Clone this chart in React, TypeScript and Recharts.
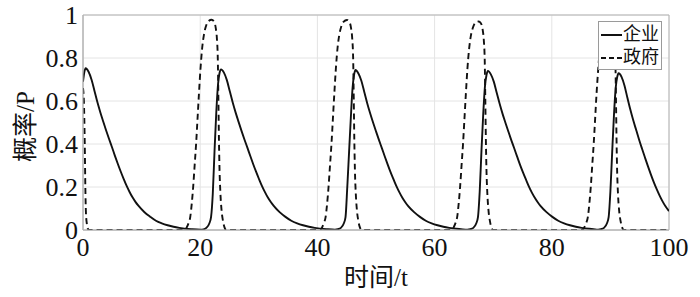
import { LineChart, Line, XAxis, YAxis, CartesianGrid, ReferenceArea } from 'recharts';

// tick values on both axes
const xTicks = [0, 20, 40, 60, 80, 100];
const yTicks = [0, 0.2, 0.4, 0.6, 0.8, 1];

const seriesNames = ['企业', '政府'];
const xTitle = '时间/t';
const yTitle = '概率/P';

// [t, P] – enterprise (solid)
const enterprise: [number, number][] = [
    [0, 0.69], [0.2, 0.73], [0.45, 0.752], [0.95, 0.736], [1.45, 0.7], [1.95, 0.648], [2.45, 0.595],
    [2.95, 0.548], [3.45, 0.505], [3.95, 0.463], [4.45, 0.423], [4.95, 0.385], [5.45, 0.345], [5.95, 0.307],
    [6.45, 0.271], [6.95, 0.237], [7.45, 0.205], [7.95, 0.177], [8.45, 0.152], [8.95, 0.131], [9.45, 0.113],
    [10.45, 0.084], [11.45, 0.062], [12.45, 0.043], [13.45, 0.031], [14.45, 0.022], [15.45, 0.015],
    [16.45, 0.01], [18.45, 0.004],
    [20.05, 0.0015], [20.55, 0.003], [21.05, 0.01], [21.55, 0.03], [21.85, 0.06], [22.15, 0.17], [22.45, 0.37],
    [22.75, 0.55], [23.05, 0.68], [23.3, 0.73], [23.55, 0.747], [24.05, 0.732], [24.55, 0.697], [25.05, 0.645],
    [25.55, 0.593], [26.05, 0.546], [26.55, 0.503], [27.05, 0.461], [27.55, 0.421], [28.05, 0.383],
    [28.55, 0.344], [29.05, 0.306], [29.55, 0.27], [30.05, 0.236], [30.55, 0.204], [31.05, 0.176],
    [31.55, 0.151], [32.05, 0.13], [32.55, 0.112], [33.55, 0.083], [34.55, 0.061], [35.55, 0.043],
    [36.55, 0.031], [37.55, 0.022], [38.55, 0.015], [39.55, 0.01], [41.55, 0.004],
    [43, 0.0015], [43.5, 0.004], [44, 0.01], [44.5, 0.03], [44.8, 0.06], [45.1, 0.2],
    [45.4, 0.36], [45.7, 0.52], [46, 0.66], [46.25, 0.72], [46.5, 0.744], [47, 0.728], [47.5, 0.694],
    [48, 0.642], [48.5, 0.59], [49, 0.543], [49.5, 0.5], [50, 0.459], [50.5, 0.419], [51, 0.381],
    [51.5, 0.342], [52, 0.304], [52.5, 0.268], [53, 0.235], [53.5, 0.203], [54, 0.175], [54.5, 0.15],
    [55, 0.129], [55.5, 0.111], [56.5, 0.083], [57.5, 0.061], [58.5, 0.043], [59.5, 0.031], [60.5, 0.022],
    [61.5, 0.015], [62.5, 0.01], [64.5, 0.004],
    [65.6, 0.0015], [66.1, 0.004], [66.6, 0.01], [67.1, 0.03], [67.4, 0.06],
    [67.7, 0.18], [68, 0.37], [68.3, 0.54], [68.6, 0.67], [68.85, 0.72], [69.1, 0.74], [69.6, 0.724],
    [70.1, 0.69], [70.6, 0.638], [71.1, 0.587], [71.6, 0.54], [72.1, 0.498], [72.6, 0.457], [73.1, 0.417],
    [73.6, 0.379], [74.1, 0.34], [74.6, 0.302], [75.1, 0.267], [75.6, 0.234], [76.1, 0.202], [76.6, 0.174],
    [77.1, 0.15], [77.6, 0.129], [78.1, 0.111], [79.1, 0.083], [80.1, 0.061], [81.1, 0.043], [82.1, 0.031],
    [83.1, 0.022], [84.1, 0.015], [85.1, 0.01], [87.1, 0.004],
    [87.9, 0.0015], [88.4, 0.004], [88.9, 0.01], [89.4, 0.03],
    [89.7, 0.06], [90, 0.18], [90.3, 0.36], [90.6, 0.53], [90.9, 0.66], [91.15, 0.71], [91.4, 0.729],
    [91.9, 0.712], [92.4, 0.672], [92.9, 0.615], [93.4, 0.56], [93.9, 0.51], [94.4, 0.465], [94.9, 0.42],
    [95.4, 0.378], [95.9, 0.337], [96.4, 0.297], [96.9, 0.259], [97.4, 0.223], [97.9, 0.19], [98.4, 0.16],
    [98.9, 0.133], [99.4, 0.11], [100, 0.088],
];

// [t, P] – government (dashed)
const government: [number, number][] = [
    [0, 0.66], [0.15, 0.6], [0.3, 0.4], [0.4, 0.2], [0.5, 0.08], [0.65, 0.03], [0.85, 0.005], [1.1, 0],
    [17.35, 0], [17.75, 0.015], [18.05, 0.035], [18.3, 0.06], [18.55, 0.12], [18.8, 0.2], [19.05, 0.3],
    [19.3, 0.4], [19.55, 0.52], [19.8, 0.64], [20.05, 0.75], [20.35, 0.85], [20.65, 0.91], [20.95, 0.945],
    [21.35, 0.97], [21.95, 0.978], [22.35, 0.97], [22.65, 0.94], [22.85, 0.89], [23, 0.8], [23.1, 0.62],
    [23.2, 0.42], [23.3, 0.28], [23.45, 0.17], [23.65, 0.09], [23.9, 0.04], [24.15, 0.012], [24.45, 0],
    [40.45, 0], [40.85, 0.015], [41.15, 0.035], [41.4, 0.06], [41.65, 0.12], [41.9, 0.2], [42.15, 0.3],
    [42.4, 0.4], [42.65, 0.52], [42.9, 0.64], [43.15, 0.75], [43.45, 0.85], [43.75, 0.91], [44.05, 0.944],
    [44.45, 0.968], [45.05, 0.977], [45.45, 0.968], [45.75, 0.938], [45.95, 0.888], [46.1, 0.8], [46.2, 0.62],
    [46.3, 0.42], [46.4, 0.28], [46.55, 0.17], [46.75, 0.09], [47, 0.04], [47.25, 0.012], [47.55, 0],
    [62.9, 0], [63.3, 0.015], [63.6, 0.035], [63.85, 0.06], [64.1, 0.12], [64.35, 0.2], [64.6, 0.3],
    [64.85, 0.4], [65.1, 0.52], [65.35, 0.64], [65.6, 0.75], [65.9, 0.845], [66.2, 0.905], [66.5, 0.938],
    [66.9, 0.962], [67.5, 0.97], [67.9, 0.962], [68.2, 0.932], [68.4, 0.882], [68.55, 0.795], [68.65, 0.615],
    [68.75, 0.42], [68.85, 0.28], [69, 0.17], [69.2, 0.09], [69.45, 0.04], [69.7, 0.012], [70, 0],
    [85.2, 0], [85.6, 0.015], [85.9, 0.035], [86.15, 0.06], [86.4, 0.12], [86.65, 0.2], [86.9, 0.3],
    [87.15, 0.4], [87.4, 0.52], [87.65, 0.64], [87.9, 0.74], [88.2, 0.84], [88.5, 0.9], [88.8, 0.932],
    [89.2, 0.955], [89.8, 0.965], [90.2, 0.957], [90.5, 0.927], [90.7, 0.877], [90.85, 0.79], [90.95, 0.61],
    [91.05, 0.415], [91.15, 0.275], [91.3, 0.165], [91.5, 0.088], [91.75, 0.04], [92, 0.012], [92.3, 0],
    [100, 0],
];

const toRows = (pts: [number, number][]) => pts.map(([t, p]) => ({ t, p }));

const SERIF = '"Liberation Serif", "Times New Roman", serif';
const CJK = '"Liberation Serif", "Noto Sans CJK SC", serif';
const BORDER = '#b4b4b4';
const GRID = '#e4e4e4';
const INK = '#111';
const DASH = '6 4';

const tickStyle = { fill: INK, fontSize: 26, fontFamily: SERIF };

// legend box sits over the top-right corner of the plot, as in the figure
function LegendBox() {
    const rows = [
        { name: seriesNames[0], dash: undefined },
        { name: seriesNames[1], dash: '5 3' },
    ];
    return (
        <div
            style={{
                position: 'absolute',
                left: 598,
                top: 21,
                width: 64,
                height: 49,
                boxSizing: 'border-box',
                background: '#fff',
                border: '1px solid #9a9a9a',
                fontFamily: CJK,
                fontSize: 18,
                color: INK,
                zIndex: 5,
                paddingTop: 1,
            }}
        >
            {rows.map((r) => (
                <div
                    key={r.name}
                    style={{ display: 'flex', alignItems: 'center', height: 23, paddingLeft: 2, whiteSpace: 'nowrap' }}
                >
                    <svg width={21} height={10} style={{ marginRight: 1, flex: 'none' }}>
                        <line x1={0} y1={5} x2={21} y2={5} stroke={INK} strokeWidth={2} strokeDasharray={r.dash} />
                    </svg>
                    <span style={{ lineHeight: '23px' }}>{r.name}</span>
                </div>
            ))}
        </div>
    );
}

export default function App() {
    return (
        <div style={{ position: 'absolute', left: 0, top: 0, width: 700, height: 297, background: '#fff' }}>
            <LineChart width={700} height={297} margin={{ top: 15, right: 31, bottom: 0, left: 0 }}>
                <CartesianGrid stroke={GRID} strokeWidth={1} />
                <ReferenceArea x1={0} x2={100} y1={0} y2={1} fill="none" stroke={BORDER} strokeWidth={1} />
                <XAxis
                    type="number"
                    dataKey="t"
                    domain={[0, 100]}
                    ticks={xTicks}
                    allowDataOverflow
                    height={67}
                    tickLine={false}
                    axisLine={{ stroke: BORDER }}
                    tick={tickStyle}
                    tickMargin={2}
                    label={{
                        content: ({ viewBox }: any) => (
                            <text
                                x={viewBox.x + viewBox.width / 2}
                                y={viewBox.y + 47}
                                textAnchor="middle"
                                dominantBaseline="central"
                                fontSize={25}
                                fontFamily={CJK}
                                fill={INK}
                            >
                                {xTitle}
                            </text>
                        ),
                    }}
                />
                <YAxis
                    type="number"
                    domain={[0, 1]}
                    ticks={yTicks}
                    allowDataOverflow
                    width={83}
                    tickLine={false}
                    axisLine={{ stroke: BORDER }}
                    tick={tickStyle}
                    tickSize={4}
                    tickMargin={1}
                    label={{
                        content: ({ viewBox }: any) => {
                            const cx = 25;
                            const cy = viewBox.y + viewBox.height / 2 + 4;
                            return (
                                <text
                                    x={cx}
                                    y={cy}
                                    transform={`rotate(-90 ${cx} ${cy})`}
                                    textAnchor="middle"
                                    dominantBaseline="central"
                                    fontSize={25}
                                    fontFamily={CJK}
                                    fill={INK}
                                >
                                    {yTitle}
                                </text>
                            );
                        },
                    }}
                />
                <Line
                    data={toRows(enterprise)}
                    dataKey="p"
                    name={seriesNames[0]}
                    type="monotone"
                    stroke={INK}
                    strokeWidth={1.9}
                    dot={false}
                    activeDot={false}
                    isAnimationActive={false}
                />
                <Line
                    data={toRows(government)}
                    dataKey="p"
                    name={seriesNames[1]}
                    type="monotone"
                    stroke={INK}
                    strokeWidth={1.9}
                    strokeDasharray={DASH}
                    dot={false}
                    activeDot={false}
                    isAnimationActive={false}
                />
            </LineChart>
            <LegendBox />
        </div>
    );
}
